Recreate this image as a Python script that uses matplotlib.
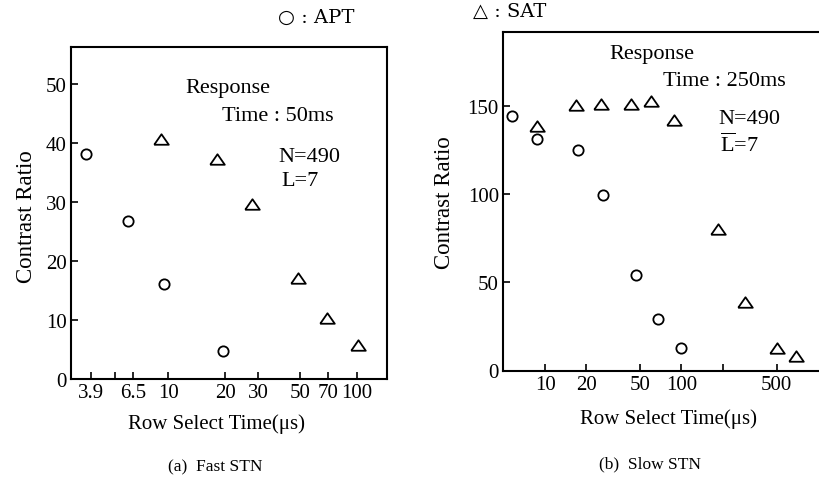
# %%
# Contrast ratio vs row select time, APT vs SAT (fast / slow STN)

# %%
# Imports
import matplotlib
matplotlib.use('Agg')
import matplotlib.pyplot as plt
from matplotlib.ticker import FixedLocator, NullLocator

plt.rcParams['font.family'] = ['Liberation Serif', 'DejaVu Sans']
plt.rcParams['mathtext.fontset'] = 'custom'
plt.rcParams['mathtext.rm'] = 'Liberation Serif'

# %%
# Data
# (a) Fast STN, response time 50 ms
fast_apt_t = [3.65, 6.1, 9.5, 19.5]
fast_apt_cr = [38.1, 26.7, 16.0, 4.7]
fast_sat_t = [9.1, 18.0, 27.8, 48.7, 69.0, 100.5]
fast_sat_cr = [40.6, 37.3, 29.7, 17.1, 10.3, 5.7]
fast_ticks = [3.9, 6.5, 10, 20, 30, 50, 70, 100]
fast_minor = [5.2]

# (b) Slow STN, response time 250 ms
slow_apt_t = [5.7, 8.7, 17.3, 26.4, 46.6, 67.3, 100]
slow_apt_cr = [144.2, 131.5, 125.3, 99.7, 53.9, 29.3, 12.8]
slow_sat_t = [8.7, 16.8, 25.7, 42.3, 60.1, 88.2, 186, 293, 501, 695]
slow_sat_cr = [138.7, 150.5, 151.4, 151.4, 152.7, 141.9, 80.4, 38.8, 12.8, 8.1]
slow_ticks = [10, 20, 50, 100, 500]
slow_minor = [200]

# %%
W, H = 819, 489
fig = plt.figure(figsize=(W / 100, H / 100), dpi=100)


def px(x, y):
    return x / W, 1 - y / H


# wide, flat triangle marker
tri = [(-1, -0.72), (1, -0.72), (0, 0.72), (-1, -0.72)]
mk_circ = dict(marker='o', ms=7.4, mfc='white', mec='black', mew=1.3, ls='none')
mk_tri = dict(marker=tri, ms=10.5, mfc='white', mec='black', mew=1.3, ls='none')


def style(ax, ticks, minor, fs=15):
    ax.set_xscale('log')
    ax.xaxis.set_major_locator(FixedLocator(ticks + minor))
    ax.xaxis.set_minor_locator(NullLocator())
    ax.set_xticklabels([('%g' % t) if t in ticks else '' for t in ticks + minor])
    ax.tick_params(direction='in', length=5, width=1.2, labelsize=fs, pad=3)
    for s in ax.spines.values():
        s.set_linewidth(1.5)


# %%
# (a) Fast STN
ax1 = fig.add_axes([71 / W, 1 - 380 / H, 316 / W, 332 / H])
ax1.plot(fast_apt_t, fast_apt_cr, **mk_circ)
ax1.plot(fast_sat_t, fast_sat_cr, **mk_tri)
ax1.set_xlim(3.05, 144)
ax1.set_ylim(0, 56.2)
ax1.set_yticks([0, 10, 20, 30, 40, 50])
style(ax1, fast_ticks, fast_minor)

# %%
# (b) Slow STN (clipped at the right edge)
ax2 = fig.add_axes([503 / W, 1 - 371.5 / H, 322 / W, 338.5 / H])
ax2.plot(slow_apt_t, slow_apt_cr, **mk_circ)
ax2.plot(slow_sat_t, slow_sat_cr, **mk_tri)
ax2.set_xlim(4.9, 1130)
ax2.set_ylim(0, 192)
ax2.set_yticks([0, 50, 100, 150])
style(ax2, slow_ticks, slow_minor)

# %%
# Texts
fs = 16
fig.text(*px(27, 217), 'Contrast Ratio', rotation=90, ha='center', va='center', fontsize=16.5)
fig.text(*px(445, 203), 'Contrast Ratio', rotation=90, ha='center', va='center', fontsize=16.5)
fig.text(*px(216, 424), 'Row Select Time(μs)', ha='center', va='center', fontsize=15)
fig.text(*px(668, 419), 'Row Select Time(μs)', ha='center', va='center', fontsize=15)
fig.text(*px(215, 467), '(a)  Fast STN', ha='center', va='center', fontsize=12.5)
fig.text(*px(650, 464), '(b)  Slow STN', ha='center', va='center', fontsize=12.5)

fig.text(*px(278, 18), '○ : APT', ha='left', va='center', fontsize=14,
         family=['DejaVu Serif', 'DejaVu Sans'])
fig.text(*px(473, 12), '△ : SAT', ha='left', va='center', fontsize=14,
         family=['DejaVu Serif', 'DejaVu Sans'])

fig.text(*px(185, 89), 'Response', ha='left', va='center', fontsize=fs)
fig.text(*px(222, 117), 'Time : 50ms', ha='left', va='center', fontsize=fs)
fig.text(*px(278, 157), 'N=490', ha='left', va='center', fontsize=fs)
fig.text(*px(281, 182), 'L=7', ha='left', va='center', fontsize=fs)

fig.text(*px(609, 55), 'Response', ha='left', va='center', fontsize=fs)
fig.text(*px(663, 82), 'Time : 250ms', ha='left', va='center', fontsize=fs)
fig.text(*px(718, 120), 'N=490', ha='left', va='center', fontsize=fs)
fig.text(*px(720, 145), r'$\overline{\mathrm{L}}$=7', ha='left', va='center', fontsize=fs)

fig.savefig('out.png', dpi=100)
